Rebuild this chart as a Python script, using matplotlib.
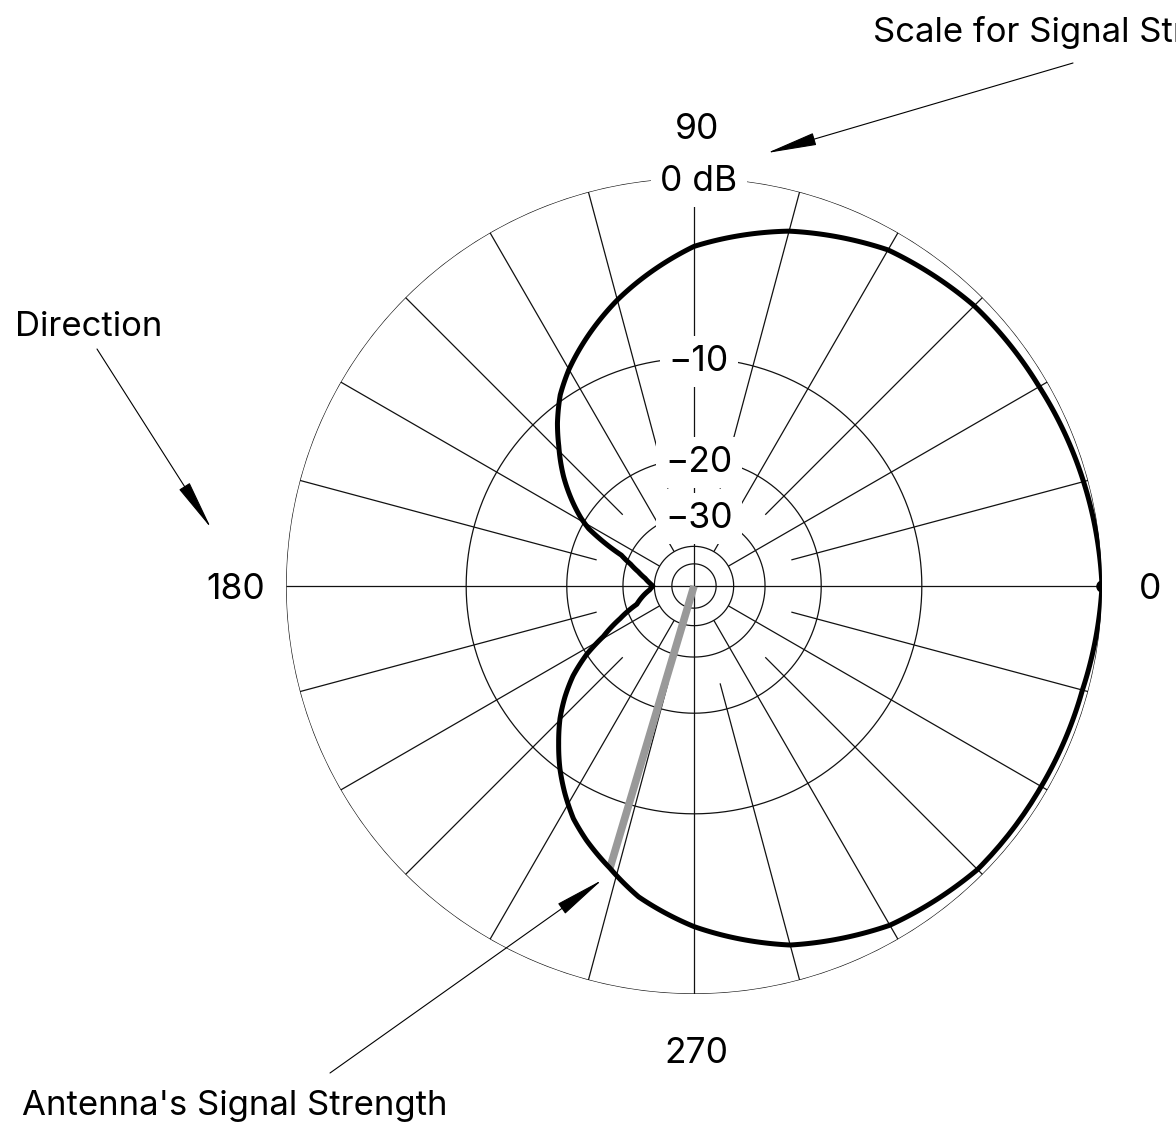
import numpy as np
import matplotlib
matplotlib.use("Agg")
import matplotlib.pyplot as plt

plt.rcParams['font.family'] = ['Inter', 'DejaVu Sans']

# ---- data (angles in degrees, gain in dB) ----
angles_deg = [0, 15, 30, 45, 60, 75, 90, 105, 120, 125, 130, 134, 140, 145, 149,
              151.4, 154, 157, 161, 165.6, 171, 176, 180, 185, 197.7, 203.8, 209.1,
              212.5, 216.6, 220.7, 224.7, 229.3, 233.7, 238.1, 242.6, 247.1, 253.4,
              259.9, 270, 285, 300, 315, 330, 345, 360]
gain_db = [0.0, -0.2, -0.4, -0.5, -0.86, -1.8, -3.15, -5.5, -8.4, -9.6, -11.2, -12.7,
           -15.0, -17.3, -19.4, -21.0, -24.0, -28.2, -31.0, -33.6, -36.2, -38.0, -39.4,
           -38.0, -32.9, -27.8, -23.5, -20.0, -17.1, -15.0, -13.25, -11.6, -10.1, -8.8,
           -7.6, -6.7, -5.6, -4.4, -3.1, -1.6, -0.7, -0.3, -0.3, -0.25, 0.0]

ring_db = [0, -10, -20, -30, -40, -50]
ring_labels = ['0 dB', '\u221210', '\u221220', '\u221230']
direction_deg = [0, 90, 180, 270]
direction_labels = ['0', '90', '180', '270']
spoke_step_deg = 15

signal_angle_deg = 253.4
signal_db = -5.6
peak_angle_deg = 0
peak_db = 0

note_direction = 'Direction'
note_signal = "Antenna's Signal Strength"
note_scale = 'Scale for Signal Strength'


def db_to_r(db):
    # ARRL-style log-periodic scale: each 2 dB step shrinks radius by 0.89
    return 0.89 ** (-np.asarray(db, dtype=float) / 2.0)


def arcs(line, steps=40):
    # draw segments as polar arcs (r linear in theta) instead of chords
    line.get_path()._interpolation_steps = steps
    line.recache(always=True)
    return line


W, H = 1176, 1125
fig = plt.figure(figsize=(W / 100, H / 100), dpi=100)
cx, cy, R = 694, 586, 408
ax = fig.add_axes([(cx - R) / W, (H - cy - R) / H, 2 * R / W, 2 * R / H],
                  projection='polar')
ax.set_ylim(0, 1)
ax.axis('off')

grid_kw = dict(color='#111111', lw=0.9, zorder=1, solid_capstyle='butt')
theta_full = np.linspace(0, 2 * np.pi, 721)
for db in ring_db:
    ax.plot(theta_full, np.full_like(theta_full, db_to_r(db)), **grid_kw)

for k in range(360 // spoke_step_deg):
    a = k * spoke_step_deg
    if a % 90 == 0:
        r0 = 0.0
    elif a % 30 == 0:
        r0 = float(db_to_r(-40))
    else:
        r0 = float(db_to_r(-24))
    ax.plot([np.deg2rad(a)] * 2, [r0, 1.0], **grid_kw)

FS_NUM = 25.5
FS_NOTE = 25
for db, lab in zip(ring_db[:4], ring_labels):
    ax.annotate(lab, xy=(np.pi / 2, db_to_r(db)), xytext=(3.5, -2.5),
                textcoords='offset points', ha='center', va='center',
                fontsize=FS_NUM, zorder=3,
                bbox=dict(boxstyle='square,pad=0.26', fc='white', ec='none'))

label_r = [1.11, 1.127, 1.13, 1.137]
for a, lab, rr in zip(direction_deg, direction_labels, label_r):
    ax.annotate(lab, xy=(np.deg2rad(a), rr), xytext=(2, -2.5),
                textcoords='offset points', ha='center', va='center',
                fontsize=FS_NUM, annotation_clip=False)

th = np.deg2rad(signal_angle_deg)
ax.plot([th, th], [0, db_to_r(signal_db)], color='#999999', lw=5.5,
        solid_capstyle='butt', zorder=4)

curve, = ax.plot(np.deg2rad(angles_deg), db_to_r(gain_db), color='black', lw=3.6,
                 zorder=5, solid_joinstyle='round')
arcs(curve)
ax.plot([np.deg2rad(peak_angle_deg)], [db_to_r(peak_db)], 'o', color='black',
        ms=8, zorder=6)


def fp(x, y):
    return (x / W, 1 - y / H)


fig.text(*fp(15, 336), note_direction, fontsize=FS_NOTE, ha='left', va='baseline')
fig.text(*fp(22, 1115), note_signal, fontsize=FS_NOTE, ha='left', va='baseline')
fig.text(*fp(873, 42), note_scale, fontsize=FS_NOTE, ha='left', va='baseline')

arrow_kw = dict(arrowstyle='-|>,head_length=1.6,head_width=0.2', color='black',
                lw=0.8, shrinkA=0, shrinkB=0, mutation_scale=20)
for start, tip in [((1073, 63), (767, 153)),
                   ((97, 349), (211, 528)),
                   ((330, 1073), (602, 880))]:
    ax.annotate('', xy=fp(*tip), xycoords='figure fraction',
                xytext=fp(*start), textcoords='figure fraction',
                arrowprops=arrow_kw, annotation_clip=False)

fig.savefig('out.png', dpi=100)
